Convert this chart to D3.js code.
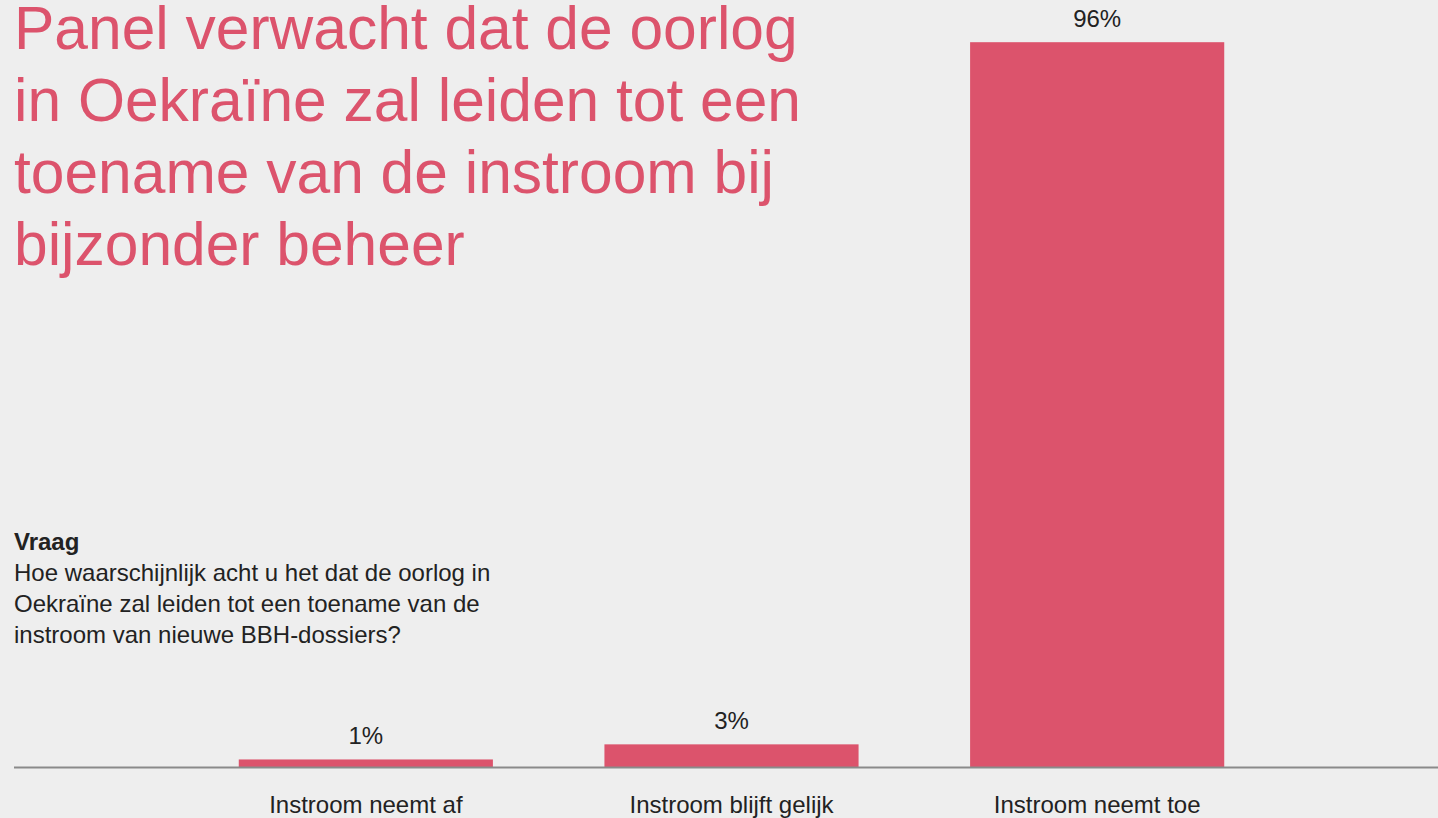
<!DOCTYPE html>
<html>
<head>
<meta charset="utf-8">
<script src="https://cdn.jsdelivr.net/npm/d3@7"></script>
<style>
  html, body { margin: 0; padding: 0; background: #eeeeee; }
  svg { display: block; font-family: "Liberation Sans", Arial, Helvetica, sans-serif; }
</style>
</head>
<body>
<svg id="chart" width="1438" height="818"></svg>
<script>
// Survey answers and their shares (%)
const categories = ["Instroom neemt af", "Instroom blijft gelijk", "Instroom neemt toe"];
const values = [1, 3, 96];
const valueLabels = ["1%", "3%", "96%"];

const titleLines = [
  "Panel verwacht dat de oorlog",
  "in Oekraïne zal leiden tot een",
  "toename van de instroom bij",
  "bijzonder beheer"
];
const questionHeading = "Vraag";
const questionLines = [
  "Hoe waarschijnlijk acht u het dat de oorlog in",
  "Oekraïne zal leiden tot een toename van de",
  "instroom van nieuwe BBH-dossiers?"
];

const W = 1438, H = 818;
const pink = "#dc536c";
const textColor = "#222222";
const baseY = 767;

const svg = d3.select("#chart");

svg.append("rect").attr("width", W).attr("height", H).attr("fill", "#eeeeee");

const x = d3.scaleBand()
  .domain(categories)
  .range([183, 1280])
  .paddingInner(0.305)
  .paddingOuter(0.1525);

const y = d3.scaleLinear().domain([0, 100]).range([baseY, 12]);

const data = categories.map((c, i) => ({ c, v: values[i], label: valueLabels[i] }));

// Bars
svg.append("g").selectAll("rect")
  .data(data)
  .join("rect")
  .attr("x", d => x(d.c))
  .attr("y", d => y(d.v))
  .attr("width", x.bandwidth())
  .attr("height", d => y(0) - y(d.v))
  .attr("fill", pink);

// Value labels above bars
svg.append("g").selectAll("text")
  .data(data)
  .join("text")
  .attr("x", d => x(d.c) + x.bandwidth() / 2)
  .attr("y", d => y(d.v) - 15)
  .attr("text-anchor", "middle")
  .attr("font-size", 24)
  .attr("fill", textColor)
  .text(d => d.label);

// Baseline
svg.append("line")
  .attr("x1", 14).attr("x2", W)
  .attr("y1", baseY + 0.5).attr("y2", baseY + 0.5)
  .attr("stroke", "#8a8a8a")
  .attr("stroke-width", 2);

// Category axis
const xAxis = svg.append("g")
  .attr("transform", `translate(0,${baseY})`)
  .call(d3.axisBottom(x).tickSize(0).tickPadding(0));
xAxis.select(".domain").remove();
xAxis.selectAll("text")
  .attr("dy", null)
  .attr("y", 46)
  .attr("font-size", 24)
  .attr("font-family", "'Liberation Sans', Arial, sans-serif")
  .attr("fill", textColor);

// Title
svg.append("text")
  .attr("x", 14)
  .attr("font-size", 60.5)
  .attr("fill", pink)
  .selectAll("tspan")
  .data(titleLines)
  .join("tspan")
  .attr("x", 14)
  .attr("y", (d, i) => 48.5 + i * 72)
  .text(d => d);

// Question block
const q = svg.append("g").attr("fill", textColor).attr("font-size", 24);
q.append("text")
  .attr("x", 14).attr("y", 550)
  .attr("font-weight", "bold")
  .text(questionHeading);
q.append("text")
  .selectAll("tspan")
  .data(questionLines)
  .join("tspan")
  .attr("x", 14)
  .attr("y", (d, i) => 581 + i * 31)
  .text(d => d);
</script>
</body>
</html>
